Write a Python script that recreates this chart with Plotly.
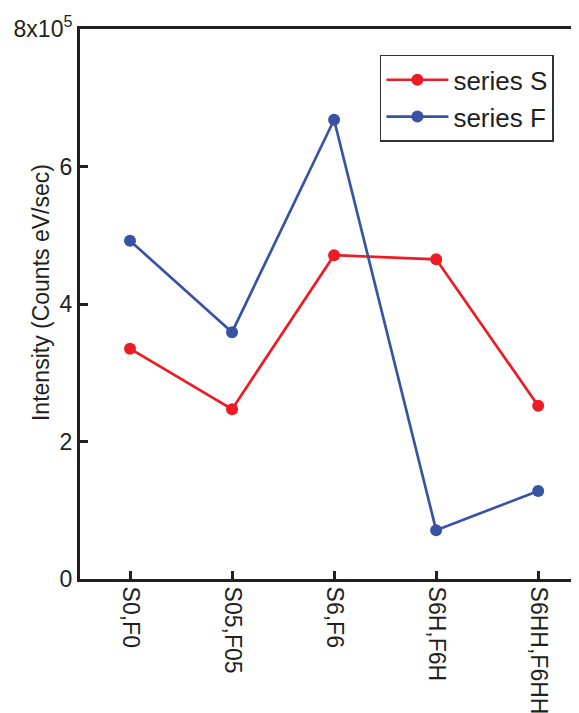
import plotly.graph_objects as go

categories = ["S0,F0", "S05,F05", "S6,F6", "S6H,F6H", "S6HH,F6HH"]
series_s = [3.35, 2.47, 4.71, 4.65, 2.52]
series_f = [4.92, 3.59, 6.68, 0.71, 1.28]
ytick_vals = [0, 2, 4, 6, 8]
ytick_text = ["0", "2", "4", "6", "8x10<sup>5</sup>"]
y_title = "Intensity (Counts eV/sec)"

RED = "#ED1C24"
BLUE = "#3953A4"
INK = "#231F20"
FONT = "Liberation Sans, Arial, sans-serif"

x_idx = list(range(len(categories)))

fig = go.Figure()
fig.add_trace(go.Scatter(x=x_idx, y=series_s, mode="lines+markers", name="series S",
                         line=dict(color=RED, width=2.7), marker=dict(color=RED, size=12)))
fig.add_trace(go.Scatter(x=x_idx, y=series_f, mode="lines+markers", name="series F",
                         line=dict(color=BLUE, width=2.7), marker=dict(color=BLUE, size=12)))

fig.update_layout(
    width=579, height=713,
    margin=dict(l=72, r=8, t=21, b=142),
    paper_bgcolor="white", plot_bgcolor="white",
    font=dict(family=FONT, color=INK, size=23),
    showlegend=True,
    legend=dict(x=0.601, y=0.953, xanchor="left", yanchor="top",
                bordercolor="#333333", borderwidth=1.5, bgcolor="white",
                font=dict(size=26, family=FONT, color=INK), tracegroupgap=0,
                itemwidth=62),
    xaxis=dict(range=[-0.49, 4.4], tickmode="array", tickvals=x_idx, ticktext=categories,
               tickangle=90, ticks="inside", ticklen=8, tickwidth=3, tickcolor=INK,
               showline=True, linewidth=3, linecolor=INK, mirror=True, automargin=False,
               showgrid=False, zeroline=False, tickfont=dict(size=23)),
    yaxis=dict(range=[0, 8], tickmode="array", tickvals=ytick_vals, ticktext=ytick_text,
               ticks="inside", ticklen=8, tickwidth=3, tickcolor=INK, automargin=False,
               showline=True, linewidth=3, linecolor=INK, mirror=False,
               showgrid=False, zeroline=False, tickfont=dict(size=23)),
    annotations=[dict(text=y_title, xref="paper", yref="paper", x=-0.077, y=0.521,
                      xanchor="center", yanchor="middle", textangle=-90, showarrow=False,
                      font=dict(size=23, family=FONT, color=INK))],
)

fig.write_html("out.html")
